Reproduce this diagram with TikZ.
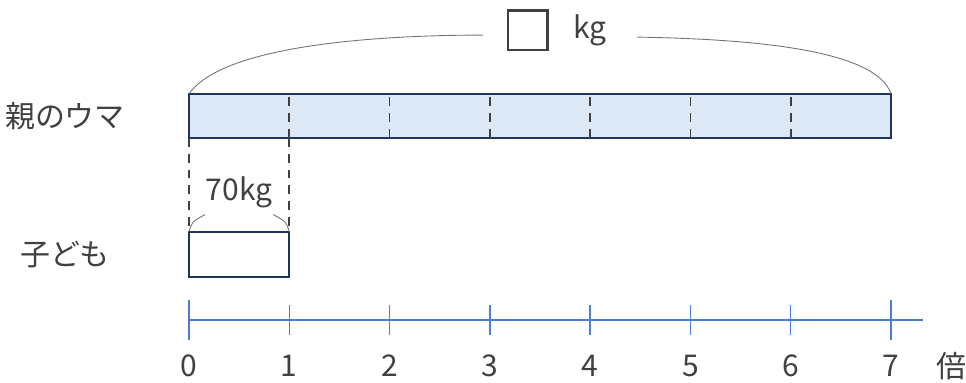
\documentclass[tikz,border=0pt]{standalone}
\usepackage{fontspec}
\setmainfont{Noto Sans CJK JP}
\usetikzlibrary{calc}
\definecolor{BarClr}{rgb}{0.867,0.914,0.965}
\definecolor{EdgeClr}{rgb}{0.12,0.20,0.36}
\definecolor{AxisClr}{rgb}{0.30,0.49,0.82}
\definecolor{TextClr}{rgb}{0.25,0.25,0.25}

\begin{document}
\begin{tikzpicture}[x=2cm,y=2cm,
  every node/.style={text=TextClr,font=\fontsize{17}{20}\selectfont},
  brace/.style={draw=gray!90!black,line width=.5pt},
  divider/.style={draw=TextClr,dashed,line width=.9pt,dash pattern=on 5pt off 4pt}]
\useasboundingbox (-1.884,-0.628) rectangle (7.747,3.19);

% bars
\coordinate (A) at (0,2.253);
\coordinate (B) at (7,2.253);
\coordinate (C) at (7,1.815);
\coordinate (D) at (0,1.815);
\coordinate (E) at (0,0.877);
\coordinate (F) at (1,0.877);
\coordinate (G) at (1,0.429);
\coordinate (H) at (0,0.429);

\filldraw[fill=BarClr,draw=EdgeClr,line width=1.1pt] (A) rectangle (C);
\foreach \i in {1,...,6}
  \draw[divider] (\i,1.815) -- (\i,2.253);
\filldraw[fill=white,draw=EdgeClr,line width=1.1pt] (E) rectangle (G);
\draw[divider] (D) -- (E);
\draw[divider] (1,1.815) -- (F);

% labels left
\node (parent) at (-1.236,2.03) {親のウマ};
\node (child) at (-1.236,0.65) {子ども};

% total
\node[draw=TextClr,line width=1.2pt,minimum size=0.78cm,inner sep=0pt] (box) at (3.38,2.89) {};
\node (kg) at (4.0,2.89) {kg};
\coordinate (P) at (2.93,2.84);
\coordinate (Q) at (4.47,2.82);
\draw[brace] (A) .. controls (0.35,2.76) and (2.0,2.84) .. (P);
\draw[brace] (Q) .. controls (5.6,2.80) and (6.85,2.70) .. (B);

% part
\node (seventy) at (0.5,1.27) {70kg};
\draw[brace] (E) .. controls (0.03,0.98) .. (0.16,1.05);
\draw[brace] (0.84,1.05) .. controls (0.97,0.98) .. (F);

% axis
\draw[AxisClr,line width=.8pt] (0,0) -- (7.32,0);
\draw[AxisClr,line width=.8pt] (0,-0.2) -- (0,0.2);
\draw[AxisClr,line width=.8pt] (7,-0.2) -- (7,0.2);
\foreach \i in {1,...,6}
  \draw[AxisClr,line width=.8pt] (\i,-0.15) -- (\i,0.15);
\foreach \i in {0,...,7}
  \node (n\i) at (\i,-0.46) {\i};
\node (times) at (7.6,-0.46) {倍};

\end{tikzpicture}
\end{document}
